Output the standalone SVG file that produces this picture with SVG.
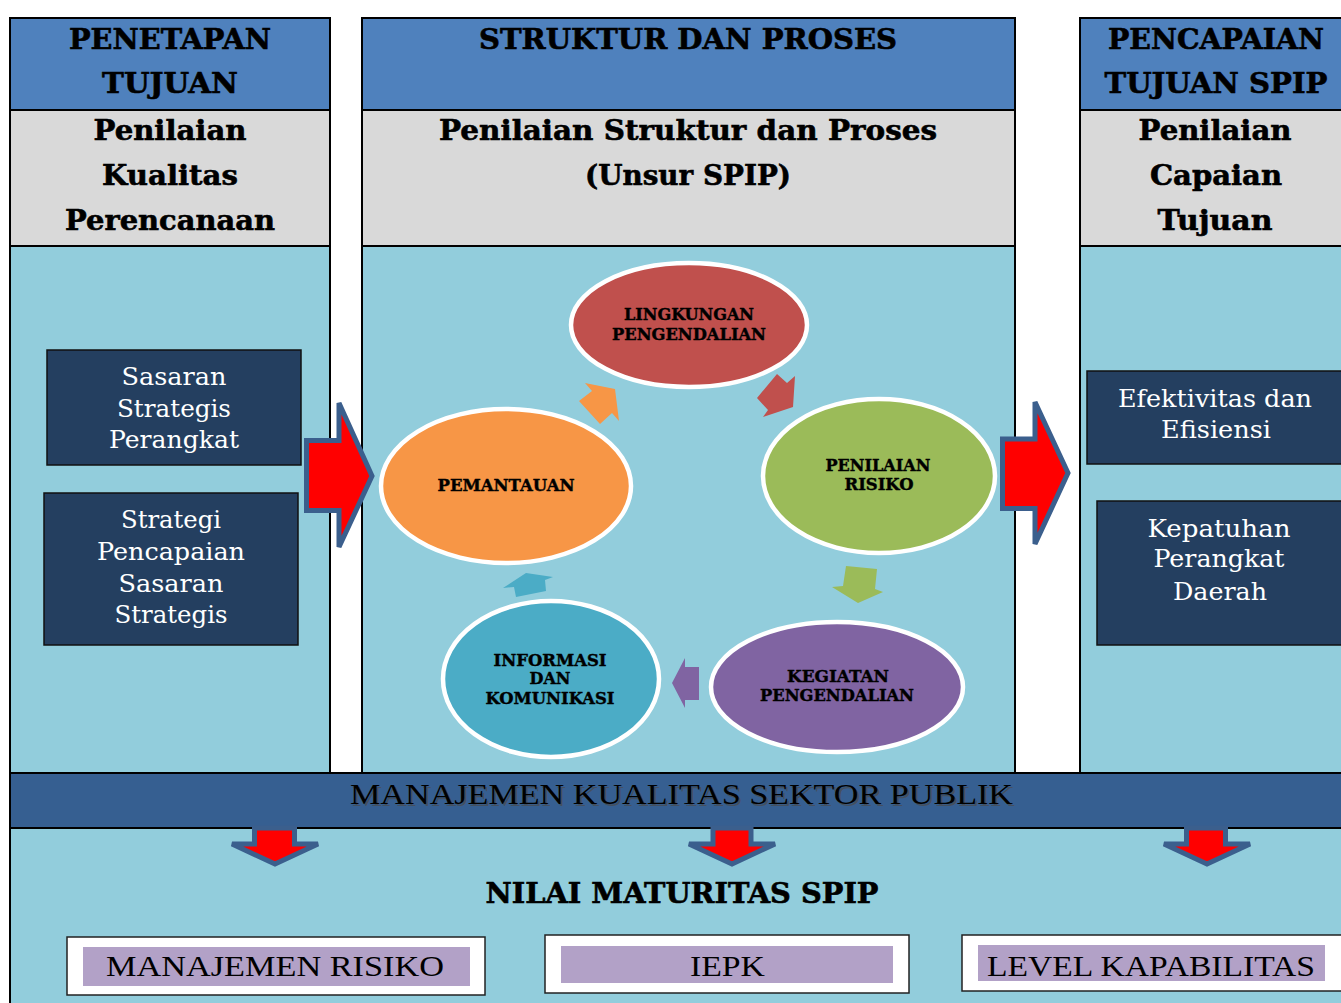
<svg xmlns="http://www.w3.org/2000/svg" width="1341" height="1003" viewBox="0 0 1341 1003">
<defs>
<style>
.hdr{fill:#4F81BD;stroke:#000;stroke-width:2}
.gry{fill:#D9D9D9;stroke:#000;stroke-width:2}
.lb{fill:#92CDDC;stroke:#000;stroke-width:2}
.navy{fill:#243F60;stroke:#111;stroke-width:1.5}
.bk{font-family:"DejaVu Serif","Liberation Serif",serif;font-weight:bold;fill:#000;stroke:#000;stroke-width:0.6;text-anchor:middle}
.wt{font-family:"DejaVu Serif","Liberation Serif",serif;fill:#fff;text-anchor:middle;font-size:24px}
.el{stroke:#fff;stroke-width:4.5}
.et{font-family:"DejaVu Serif","Liberation Serif",serif;font-weight:bold;fill:#000;stroke:#000;stroke-width:0.4;text-anchor:middle;font-size:16px}
.big{fill:#FF0000;stroke:#3B5F8D;stroke-width:5;stroke-linejoin:miter}
.tm{font-family:"Liberation Serif","Times New Roman",serif;text-anchor:start;font-size:30px}
.wbox{fill:#fff;stroke:#222;stroke-width:1.5}
.pbox{fill:#B2A1C7}
</style>
</defs>
<rect width="1341" height="1003" fill="#fff"/>

<g id="bottom-area">
<rect x="10" y="828" width="1340" height="185" class="lb"/>
</g>

<g id="col-left">
<rect x="10" y="18" width="320" height="92" class="hdr"/>
<rect x="10" y="110" width="320" height="136" class="gry"/>
<rect x="10" y="246" width="320" height="527" class="lb"/>
<text class="bk" font-size="28" x="170" y="49" textLength="202" lengthAdjust="spacingAndGlyphs">PENETAPAN</text>
<text class="bk" font-size="28" x="170" y="93" textLength="136" lengthAdjust="spacingAndGlyphs">TUJUAN</text>
<text class="bk" font-size="28" x="170" y="140" textLength="153" lengthAdjust="spacingAndGlyphs">Penilaian</text>
<text class="bk" font-size="28" x="170" y="185" textLength="136" lengthAdjust="spacingAndGlyphs">Kualitas</text>
<text class="bk" font-size="28" x="170" y="230" textLength="210" lengthAdjust="spacingAndGlyphs">Perencanaan</text>
</g>

<g id="col-middle">
<rect x="362" y="18" width="653" height="92" class="hdr"/>
<rect x="362" y="110" width="653" height="136" class="gry"/>
<rect x="362" y="246" width="653" height="527" class="lb"/>
<text class="bk" font-size="28" x="688" y="49" textLength="418" lengthAdjust="spacingAndGlyphs">STRUKTUR DAN PROSES</text>
<text class="bk" font-size="28" x="688" y="140" textLength="498" lengthAdjust="spacingAndGlyphs">Penilaian Struktur dan Proses</text>
<text class="bk" font-size="28" x="688" y="185" textLength="206" lengthAdjust="spacingAndGlyphs">(Unsur SPIP)</text>
</g>

<g id="col-right">
<rect x="1080" y="18" width="270" height="92" class="hdr"/>
<rect x="1080" y="110" width="270" height="136" class="gry"/>
<rect x="1080" y="246" width="270" height="527" class="lb"/>
<text class="bk" font-size="28" x="1216" y="49" textLength="216" lengthAdjust="spacingAndGlyphs">PENCAPAIAN</text>
<text class="bk" font-size="28" x="1216" y="93" textLength="223" lengthAdjust="spacingAndGlyphs">TUJUAN SPIP</text>
<text class="bk" font-size="28" x="1215" y="140" textLength="153" lengthAdjust="spacingAndGlyphs">Penilaian</text>
<text class="bk" font-size="28" x="1216" y="185" textLength="132" lengthAdjust="spacingAndGlyphs">Capaian</text>
<text class="bk" font-size="28" x="1215" y="230" textLength="115" lengthAdjust="spacingAndGlyphs">Tujuan</text>
</g>

<g id="box-sasaran">
<rect x="47" y="350" width="254" height="115" class="navy"/>
<text class="wt" x="174" y="385" textLength="105" lengthAdjust="spacingAndGlyphs">Sasaran</text>
<text class="wt" x="174" y="417" textLength="114" lengthAdjust="spacingAndGlyphs">Strategis</text>
<text class="wt" x="174" y="448" textLength="130" lengthAdjust="spacingAndGlyphs">Perangkat</text>
</g>
<g id="box-strategi">
<rect x="44" y="493" width="254" height="152" class="navy"/>
<text class="wt" x="171" y="528" textLength="100" lengthAdjust="spacingAndGlyphs">Strategi</text>
<text class="wt" x="171" y="560" textLength="148" lengthAdjust="spacingAndGlyphs">Pencapaian</text>
<text class="wt" x="171" y="592" textLength="105" lengthAdjust="spacingAndGlyphs">Sasaran</text>
<text class="wt" x="171" y="623" textLength="113" lengthAdjust="spacingAndGlyphs">Strategis</text>
</g>

<g id="box-efektivitas">
<rect x="1087" y="371" width="260" height="93" class="navy"/>
<text class="wt" x="1215" y="407" textLength="194" lengthAdjust="spacingAndGlyphs">Efektivitas dan</text>
<text class="wt" x="1216" y="438" textLength="110" lengthAdjust="spacingAndGlyphs">Efisiensi</text>
</g>
<g id="box-kepatuhan">
<rect x="1097" y="501" width="250" height="144" class="navy"/>
<text class="wt" x="1219" y="537" textLength="143" lengthAdjust="spacingAndGlyphs">Kepatuhan</text>
<text class="wt" x="1219" y="567" textLength="131" lengthAdjust="spacingAndGlyphs">Perangkat</text>
<text class="wt" x="1220" y="600" textLength="94" lengthAdjust="spacingAndGlyphs">Daerah</text>
</g>

<g id="node-lingkungan">
<ellipse cx="689" cy="325" rx="118" ry="62" fill="#C0504D" class="el"/>
<text class="et" x="689" y="320" textLength="130" lengthAdjust="spacingAndGlyphs">LINGKUNGAN</text>
<text class="et" x="689" y="340" textLength="154" lengthAdjust="spacingAndGlyphs">PENGENDALIAN</text>
</g>
<g id="node-penilaian-risiko">
<ellipse cx="879" cy="476" rx="116" ry="77" fill="#9BBB59" class="el"/>
<text class="et" x="878" y="471" textLength="105" lengthAdjust="spacingAndGlyphs">PENILAIAN</text>
<text class="et" x="879" y="490" textLength="69" lengthAdjust="spacingAndGlyphs">RISIKO</text>
</g>
<g id="node-kegiatan">
<ellipse cx="837" cy="687" rx="126" ry="65" fill="#8064A2" class="el"/>
<text class="et" x="838" y="682" textLength="102" lengthAdjust="spacingAndGlyphs">KEGIATAN</text>
<text class="et" x="837" y="701" textLength="154" lengthAdjust="spacingAndGlyphs">PENGENDALIAN</text>
</g>
<g id="node-informasi">
<ellipse cx="551" cy="679" rx="108" ry="78" fill="#4BACC6" class="el"/>
<text class="et" x="550" y="666" textLength="113" lengthAdjust="spacingAndGlyphs">INFORMASI</text>
<text class="et" x="550" y="684" textLength="41" lengthAdjust="spacingAndGlyphs">DAN</text>
<text class="et" x="550" y="704" textLength="129" lengthAdjust="spacingAndGlyphs">KOMUNIKASI</text>
</g>
<g id="node-pemantauan">
<ellipse cx="506" cy="486" rx="125" ry="77" fill="#F79646" class="el"/>
<text class="et" x="506" y="491" textLength="137" lengthAdjust="spacingAndGlyphs">PEMANTAUAN</text>
</g>

<g id="connectors">
<polygon points="615,389 585,383 592,391 579,401 600,424 612,413 619,421" fill="#F79646"/>
<polygon points="793,407 763,417 768,410 757,398 777,374 787,383 795,376" fill="#C0504D"/>
<polygon points="846,566 877,569 875,589 883,592 858,603 832,587 843,586" fill="#9BBB59"/>
<polygon points="672,683 685,658 685,667 699,667 699,700 685,700 685,708" fill="#8064A2"/>
<polygon points="503,588 526,573 553,577 545,580 546,591 516,597 514,587" fill="#4BACC6"/>
<polygon class="big" points="306.5,440.5 339,440.5 339,403 372,476 339,547 339,510.5 306.5,510.5"/>
<polygon class="big" points="1002.5,439 1035,439 1035,402 1068,473 1035,544 1035,508.5 1002.5,508.5"/>
</g>

<g id="band">
<rect x="10" y="773" width="1340" height="55" fill="#365F91" stroke="#000" stroke-width="2"/>
<text class="tm" x="352" y="806" fill="#4a4a4a" fill-opacity="0.7" textLength="663" lengthAdjust="spacingAndGlyphs">MANAJEMEN KUALITAS SEKTOR PUBLIK</text>
<text class="tm" x="350" y="804" fill="#000" textLength="663" lengthAdjust="spacingAndGlyphs">MANAJEMEN KUALITAS SEKTOR PUBLIK</text>
</g>

<g id="down-arrows">
<polygon class="big" points="254.5,828 294.5,828 294.5,844 318,844 275,864 232,844 254.5,844"/>
<polygon class="big" points="713,828 751,828 751,844 775,844 732,864 689,844 713,844"/>
<polygon class="big" points="1186.5,828 1225.5,828 1225.5,844 1250,844 1207,864 1164,844 1186.5,844"/>
</g>

<g id="title-maturitas">
<text class="bk" font-size="28" x="682" y="903" textLength="393" lengthAdjust="spacingAndGlyphs">NILAI MATURITAS SPIP</text>
</g>

<g id="box-manajemen-risiko">
<rect x="67" y="937" width="418" height="58" class="wbox"/>
<rect x="83" y="947" width="387" height="39" class="pbox"/>
<text class="tm" x="106" y="976" fill="#000" textLength="338" lengthAdjust="spacingAndGlyphs">MANAJEMEN RISIKO</text>
</g>
<g id="box-iepk">
<rect x="545" y="935" width="364" height="58" class="wbox"/>
<rect x="561" y="946" width="332" height="37" class="pbox"/>
<text class="tm" x="690" y="976" fill="#000" textLength="75" lengthAdjust="spacingAndGlyphs">IEPK</text>
</g>
<g id="box-level">
<rect x="962" y="935" width="390" height="56" class="wbox"/>
<rect x="978" y="945" width="347" height="36" class="pbox"/>
<text class="tm" x="987" y="976" fill="#000" textLength="328" lengthAdjust="spacingAndGlyphs">LEVEL KAPABILITAS</text>
</g>
</svg>
